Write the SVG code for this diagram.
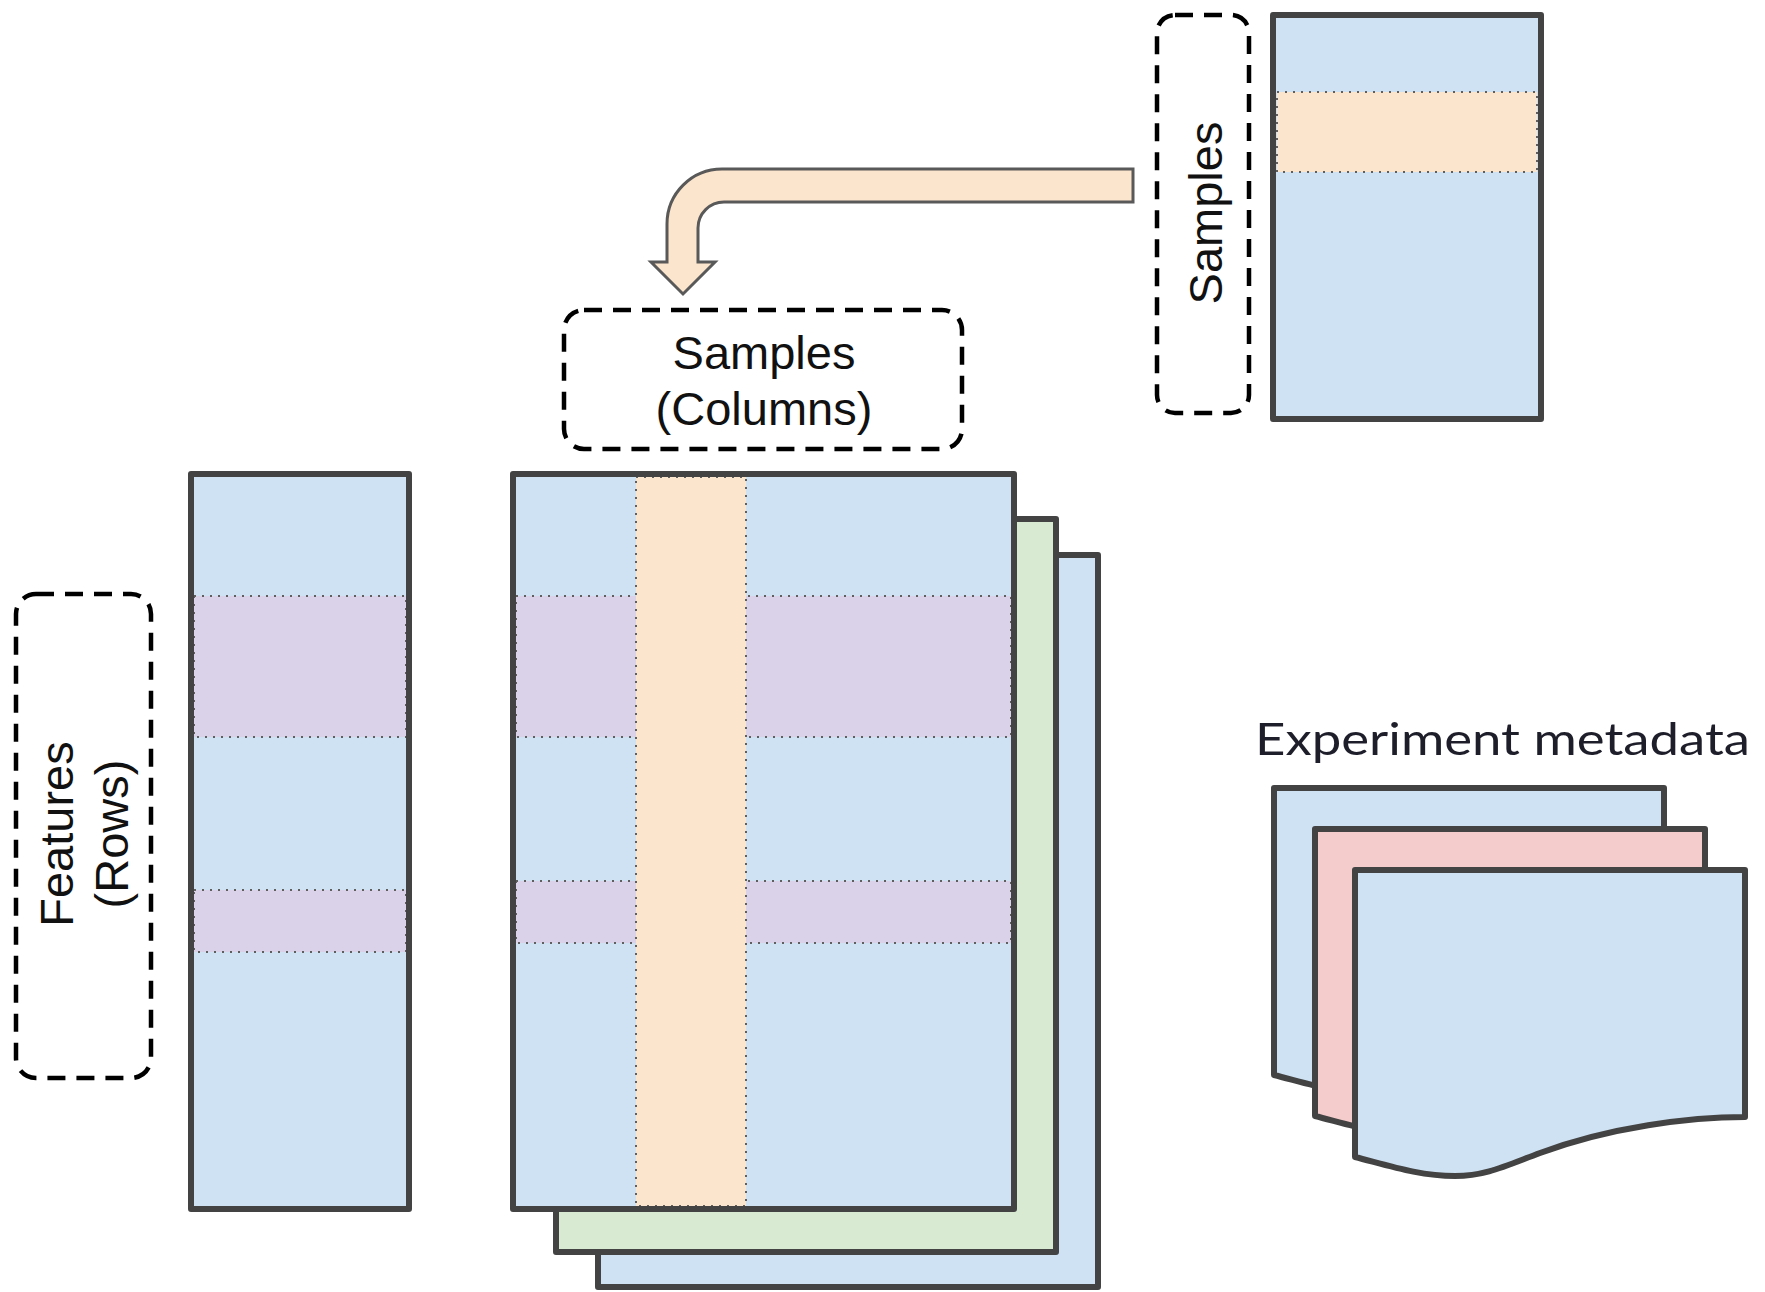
<svg xmlns="http://www.w3.org/2000/svg" width="1765" height="1292" viewBox="0 0 1765 1292">
  <style>
    .frame { fill: none; stroke: #434343; stroke-width: 6; stroke-linejoin: round; }
    .blue { fill: #cfe2f3; }
    .green { fill: #d9ead3; }
    .pink { fill: #f4cccc; }
    .purple { fill: #d9d2e9; stroke: #5f5f5f; stroke-width: 2; stroke-dasharray: 2 6; }
    .orange { fill: #fce5cd; stroke: #5f5f5f; stroke-width: 2; stroke-dasharray: 2 6; }
    .label { fill: none; stroke: #000000; stroke-width: 4.5; stroke-dasharray: 18 11; }
    .txt { font-family: "Liberation Sans", Arial, sans-serif; font-size: 47px; fill: #111111; text-anchor: middle; }
    .meta { font-family: Lato, "Open Sans", sans-serif; font-size: 45px; fill: #1e1e2a; }
    .doc { stroke: #434343; stroke-width: 6; stroke-linejoin: round; }
  </style>
  <defs>
    <path id="docShape" d="M1355,870 H1745 V1117 C1690,1117 1610,1127 1540,1153 C1505,1166 1485,1176 1455,1176 C1420,1176 1390,1166 1355,1157 Z"/>
  </defs>

  <rect width="1765" height="1292" fill="#ffffff"/>

  <!-- sample metadata table (top right) -->
  <g id="sample-table">
    <rect class="blue" x="1273" y="15" width="268" height="404"/>
    <rect class="orange" x="1277" y="92" width="260" height="80"/>
    <rect class="frame" x="1273" y="15" width="268" height="404"/>
  </g>
  <g id="sample-table-label">
    <rect class="label" x="1157" y="15" width="92" height="398" rx="18"/>
    <text class="txt" transform="translate(1222,213) rotate(-90)">Samples</text>
  </g>

  <!-- column label above the assay -->
  <g id="columns-label">
    <rect class="label" x="564" y="310" width="398" height="139" rx="20"/>
    <text class="txt" x="764" y="369">Samples</text>
    <text class="txt" x="764" y="425">(Columns)</text>
  </g>

  <!-- row label left of the feature table -->
  <g id="rows-label">
    <rect class="label" x="16" y="594" width="135" height="484" rx="20"/>
    <text class="txt" transform="translate(73,834) rotate(-90)">Features</text>
    <text class="txt" transform="translate(128,834) rotate(-90)">(Rows)</text>
  </g>

  <!-- feature metadata table (left) -->
  <g id="feature-table">
    <rect class="blue" x="191" y="474" width="218" height="735"/>
    <rect class="purple" x="194" y="596" width="212" height="141"/>
    <rect class="purple" x="194" y="890" width="212" height="62"/>
    <rect class="frame" x="191" y="474" width="218" height="735"/>
  </g>

  <!-- stacked assays -->
  <g id="assay-3">
    <rect class="blue" x="598" y="555" width="500" height="732"/>
    <rect class="frame" x="598" y="555" width="500" height="732"/>
  </g>
  <g id="assay-2">
    <rect class="green" x="556" y="519" width="500" height="733"/>
    <rect class="frame" x="556" y="519" width="500" height="733"/>
  </g>
  <g id="assay-1">
    <rect class="blue" x="513" y="474" width="501" height="735"/>
    <rect class="purple" x="516" y="596" width="495" height="141"/>
    <rect class="purple" x="516" y="881" width="495" height="62"/>
    <rect class="orange" x="636" y="477" width="110" height="729"/>
    <rect class="frame" x="513" y="474" width="501" height="735"/>
  </g>

  <!-- experiment metadata documents -->
  <g id="experiment-metadata">
    <text class="meta" x="1255" y="755" textLength="495" lengthAdjust="spacingAndGlyphs">Experiment metadata</text>
    <use href="#docShape" class="doc blue" transform="translate(-81,-82)"/>
    <use href="#docShape" class="doc pink" transform="translate(-40,-41)"/>
    <use href="#docShape" class="doc blue"/>
  </g>

  <!-- connectors -->
  <g id="connectors">
    <path d="M1133,169 H722 A55,55 0 0 0 667,224 V262 H651 L683,294 L715,262 H698 V228 A26,26 0 0 1 724,202 H1133 Z"
          fill="#fce5cd" stroke="#595959" stroke-width="3" stroke-linejoin="miter"/>
  </g>
</svg>
